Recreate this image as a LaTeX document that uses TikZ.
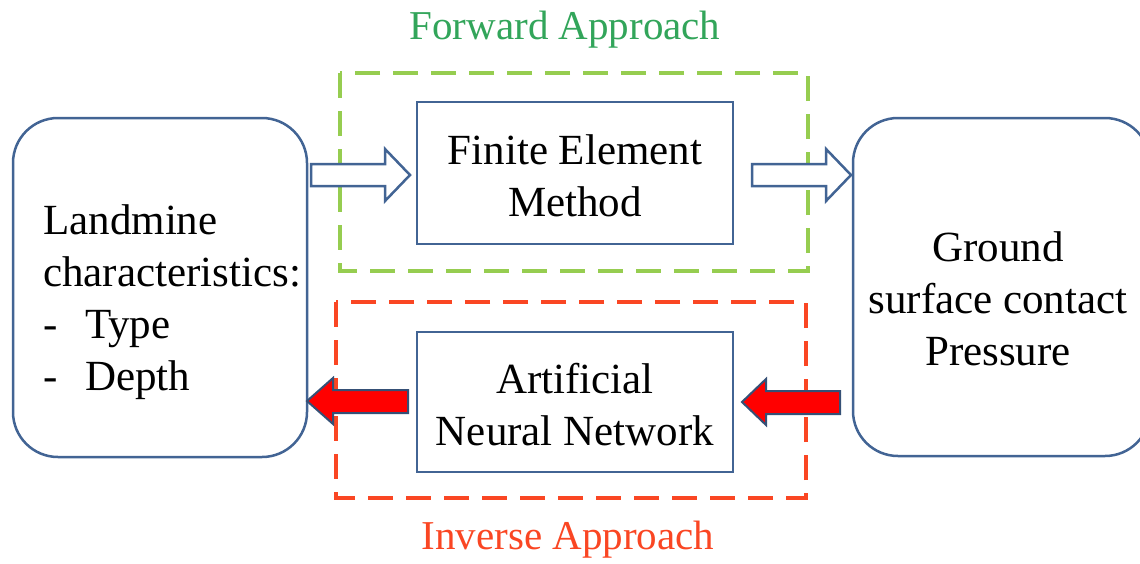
\documentclass[tikz,border=0pt]{standalone}
\usepackage{fontspec}
\setmainfont{Liberation Serif}
\definecolor{boxblue}{RGB}{66,100,148}
\definecolor{fwdgreen}{RGB}{150,205,80}
\definecolor{fwdtext}{RGB}{50,165,90}
\definecolor{invred}{RGB}{250,70,35}
\definecolor{arrowred}{RGB}{255,0,0}
\tikzset{
  bigbox/.style={draw=boxblue, line width=2.5pt, rounded corners=45pt},
  stepbox/.style={draw=boxblue, line width=2.5pt},
  fwdframe/.style={draw=fwdgreen, line width=4pt, dash pattern=on 25pt off 13pt},
  invframe/.style={draw=invred, line width=4pt, dash pattern=on 25pt off 13pt},
  txt/.style={font=\fontsize{43}{52}\selectfont, align=center, inner sep=0pt},
  ttl/.style={font=\fontsize{41}{48}\selectfont, inner sep=0pt},
  hollowarrow/.style={draw=boxblue, fill=white, line width=2.5pt, line join=miter},
  redarrow/.style={draw=boxblue!80!black, fill=arrowred, line width=2pt, line join=miter},
}
\begin{document}
\begin{tikzpicture}[x=1pt,y=-1pt]
\useasboundingbox (0,0) rectangle (1140,563);
\fill[white] (0,0) rectangle (1140,563);
\begin{scope}
\clip (0,0) rectangle (1140,563);
% big boxes
\draw[bigbox] (13,118) rectangle (307,457);
\draw[bigbox] (853,118) rectangle (1150,456);
\end{scope}
% dashed frames
\draw[fwdframe] (340,73) rectangle (808,271);
\draw[invframe] (336,302) rectangle (806,498);
% method boxes
\draw[stepbox] (417,102) rectangle (733,244);
\draw[stepbox] (417,332) rectangle (733,472);
\node[txt] (fem) at (575,176) {Finite Element\\Method};
\node[txt] (ann) at (575,405) {Artificial\\Neural Network};
% texts of big boxes
\node[txt, align=left, anchor=west] (land) at (43,302) {Landmine\\characteristics:\\\makebox[42pt][l]{-}Type\\\makebox[42pt][l]{-}Depth};
\node[txt] (gsp) at (998,299) {Ground\\surface contact\\Pressure};
% titles
\node[ttl, text=fwdtext] (ftitle) at (565,30) {Forward Approach};
\node[ttl, text=invred] (ititle) at (568,540) {Inverse Approach};
% hollow arrows (forward)
\draw[hollowarrow] (311,164) -- (385,164) -- (385,149) -- (410,175) -- (385,201) -- (385,186) -- (311,186) -- cycle;
\draw[hollowarrow] (752,164) -- (826,164) -- (826,149) -- (851,175) -- (826,201) -- (826,186) -- (752,186) -- cycle;
% red arrows (inverse)
\draw[redarrow] (408,390) -- (333,390) -- (333,378) -- (307,401) -- (333,424) -- (333,413) -- (408,413) -- cycle;
\draw[redarrow] (840,391) -- (766,391) -- (766,379) -- (742,402) -- (766,425) -- (766,414) -- (840,414) -- cycle;
\end{tikzpicture}
\end{document}
